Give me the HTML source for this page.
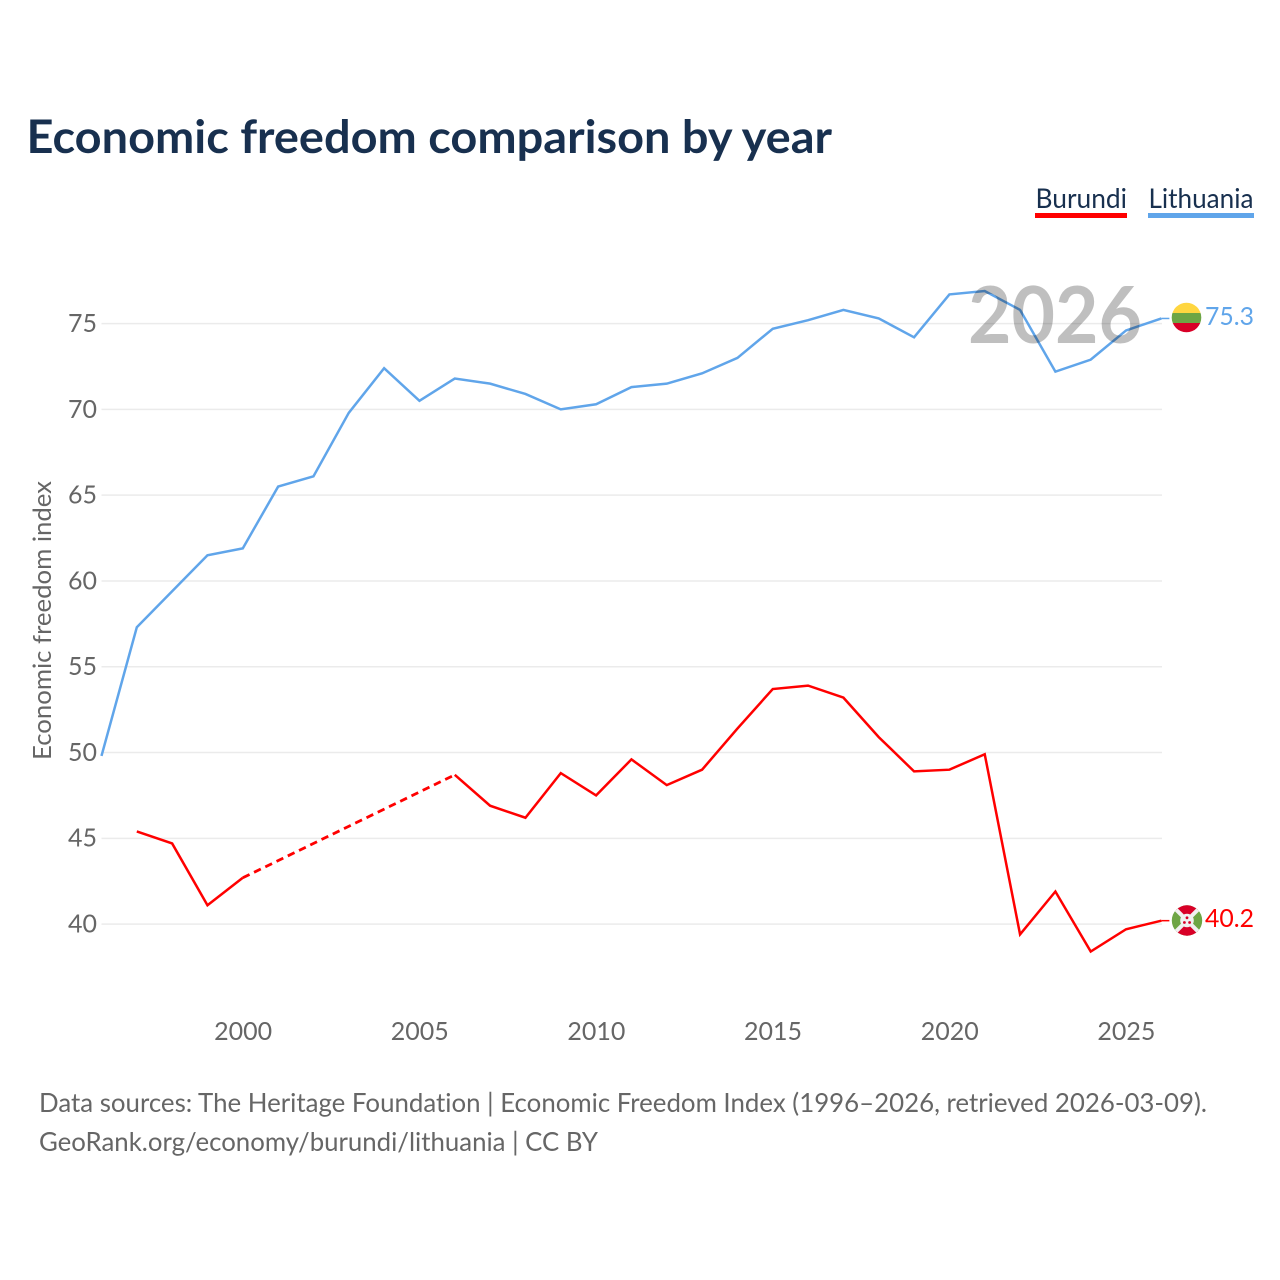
<!DOCTYPE html>
<html lang="en">
<head>
<meta charset="utf-8">
<title>Economic freedom comparison by year</title>
<style>
html,body{margin:0;padding:0;background:#fff;width:1280px;height:1280px;overflow:hidden}
svg{display:block}
text{font-family:"Lato","Carlito","Liberation Sans",sans-serif;font-variant-ligatures:none;font-feature-settings:"liga" 0,"clig" 0}
</style>
</head>
<body>
<svg id="chart" xmlns="http://www.w3.org/2000/svg" width="1280" height="1280" viewBox="0 0 1280 1280">
  <defs>
    <clipPath id="clip-lt"><circle cx="1186.5" cy="317.5" r="14.8"/></clipPath>
    <clipPath id="clip-bi"><circle cx="1187" cy="920.5" r="15.2"/></clipPath>
  </defs>
  <text x="26.5" y="153" font-size="46" font-weight="700" fill="#18304f" textLength="805.5" lengthAdjust="spacingAndGlyphs">Economic freedom comparison by year</text>

  <g>
    <text x="1035.5" y="208" font-size="27" fill="#18304f" textLength="91.5" lengthAdjust="spacingAndGlyphs">Burundi</text>
    <rect x="1035" y="213" width="92" height="5" fill="#ff0000"/>
  </g>
  <g>
    <text x="1148.5" y="208" font-size="27" fill="#18304f" textLength="105" lengthAdjust="spacingAndGlyphs">Lithuania</text>
    <rect x="1148" y="213" width="106" height="5" fill="#60a5ea"/>
  </g>

  <text transform="translate(51,760) rotate(-90)" x="0" y="0" font-size="25" fill="#666666" textLength="279" lengthAdjust="spacingAndGlyphs">Economic freedom index</text>

  <g id="grid"></g>
  <g id="xticks"></g>
  <g id="series"></g>

  <g>
    <g clip-path="url(#clip-lt)">
      <rect x="1170" y="302" width="34" height="11" fill="#ffd640"/>
      <rect x="1170" y="313" width="34" height="10" fill="#6da544"/>
      <rect x="1170" y="323" width="34" height="11" fill="#d80027"/>
    </g>
  </g>
  <g>
    <g clip-path="url(#clip-bi)">
      <rect x="1170" y="904" width="34" height="34" fill="#6da544"/>
      <polygon points="1170,904 1204,904 1187,920.5" fill="#d80027"/>
      <polygon points="1170,937 1204,937 1187,920.5" fill="#d80027"/>
      <line x1="1172" y1="905.5" x2="1202" y2="935.5" stroke="#f0f0f0" stroke-width="4"/>
      <line x1="1202" y1="905.5" x2="1172" y2="935.5" stroke="#f0f0f0" stroke-width="4"/>
      <circle cx="1187" cy="920.5" r="6.8" fill="#f0f0f0"/>
      <circle cx="1187" cy="917.8" r="1.4" fill="#d80027"/>
      <circle cx="1184.4" cy="922.5" r="1.4" fill="#d80027"/>
      <circle cx="1189.6" cy="922.5" r="1.4" fill="#d80027"/>
    </g>
  </g>
  <text x="1205" y="325" font-size="25" fill="#60a5ea" textLength="49" lengthAdjust="spacingAndGlyphs">75.3</text>
  <text x="1205" y="927" font-size="25" fill="#ff0000" textLength="49" lengthAdjust="spacingAndGlyphs">40.2</text>

  <text x="968" y="343" font-size="79" font-weight="700" fill="#000000" fill-opacity="0.25" textLength="174" lengthAdjust="spacingAndGlyphs">2026</text>

  <text x="39" y="1112" font-size="26.5" fill="#666666" textLength="1168" lengthAdjust="spacingAndGlyphs">Data sources: The Heritage Foundation | Economic Freedom Index (1996–2026, retrieved 2026-03-09).</text>
  <text x="39" y="1151" font-size="26.5" fill="#666666" textLength="559" lengthAdjust="spacingAndGlyphs">GeoRank.org/economy/burundi/lithuania | CC BY</text>
</svg>
<script>
const years = [1996,1997,1998,1999,2000,2001,2002,2003,2004,2005,2006,2007,2008,2009,2010,2011,2012,2013,2014,2015,2016,2017,2018,2019,2020,2021,2022,2023,2024,2025,2026];
const lithuania = [49.8,57.3,59.4,61.5,61.9,65.5,66.1,69.8,72.4,70.5,71.8,71.5,70.9,70.0,70.3,71.3,71.5,72.1,73.0,74.7,75.2,75.8,75.3,74.2,76.7,76.9,75.8,72.2,72.9,74.6,75.3];
const burundi = [null,45.4,44.7,41.1,42.7,null,null,null,null,null,48.7,46.9,46.2,48.8,47.5,49.6,48.1,49.0,51.4,53.7,53.9,53.2,50.9,48.9,49.0,49.9,39.4,41.9,38.4,39.7,40.2];
const yTicks = [40,45,50,55,60,65,70,75];
const xTicks = [2000,2005,2010,2015,2020,2025];

const NS = 'http://www.w3.org/2000/svg';
function xScale(year){ return 242.8 + (year - 2000) * 35.33; }
function yScale(value){ return 924.1 - (value - 40) * 17.157; }
function make(tag, attrs, parent){
  const el = document.createElementNS(NS, tag);
  for (const k in attrs) el.setAttribute(k, attrs[k]);
  parent.appendChild(el);
  return el;
}

const gridG = document.getElementById('grid');
yTicks.forEach(function(t){
  const line = make('line', {x1:101.5, x2:1162, y1:yScale(t), y2:yScale(t), stroke:'#ebebeb', 'stroke-width':1.5}, gridG);
  
  
  const label = make('text', {x:97, y:yScale(t) + 8.4, 'font-size':25, fill:'#666666', 'text-anchor':'end'}, gridG);
  
  
  label.textContent = t;
});

const xG = document.getElementById('xticks');
xTicks.forEach(function(t){
  const label = make('text', {x:xScale(t) + 0.3, y:1040, 'font-size':25, fill:'#666666', 'text-anchor':'middle'}, xG);
  
  
  label.textContent = t;
});

const seriesG = document.getElementById('series');
function drawSeries(name, values, color){
  let run = [];
  let lastEnd = null;
  function flush(){
    if (run.length > 1) {
      const solid = make('polyline', {points: run.map(function(p){ return p.join(','); }).join(' '), fill:'none', stroke:color, 'stroke-width':2.5, 'stroke-linejoin':'miter'}, seriesG);
      
      
    }
    run = [];
  }
  values.forEach(function(v, i){
    if (v === null) { if (run.length) { lastEnd = run[run.length - 1]; flush(); } return; }
    const pt = [xScale(years[i]), yScale(v)];
    if (!run.length && lastEnd) {
      const gap = make('line', {x1:lastEnd[0], y1:lastEnd[1], x2:pt[0], y2:pt[1], stroke:color, 'stroke-width':2.8, 'stroke-dasharray':'7.5 5'}, seriesG);
      
      
      lastEnd = null;
    }
    run.push(pt);
  });
  const end = run[run.length - 1];
  flush();
  const connector = make('line', {x1:end[0], y1:end[1], x2:end[0] + 8, y2:end[1], stroke:color, 'stroke-width':1.5}, seriesG);
  
  
}
drawSeries('lithuania', lithuania, '#60a5ea');
drawSeries('burundi', burundi, '#ff0000');
</script>
</body>
</html>
